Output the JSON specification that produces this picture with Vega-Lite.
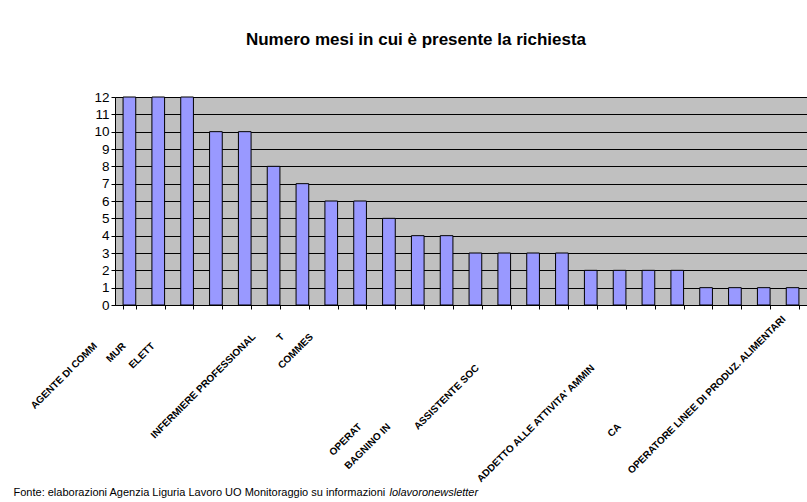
{
  "$schema": "https://vega.github.io/schema/vega-lite/v6.json",
  "width": 692,
  "height": 208,
  "autosize": "none",
  "padding": {"left": 115, "top": 97, "right": 0, "bottom": 197},
  "background": "white",
  "title": {
    "text": "Numero mesi in cui è presente la richiesta",
    "font": "Liberation Sans",
    "fontSize": 17,
    "fontWeight": "bold",
    "color": "black",
    "anchor": "middle",
    "frame": "group",
    "dx": -45,
    "offset": 28,
    "baseline": "alphabetic"
  },
  "data": {
    "values": [
      {"id": 1, "professione": "AGENTE DI COMM", "mesi": 12},
      {"id": 2, "professione": "MUR", "mesi": 12},
      {"id": 3, "professione": "ELETT", "mesi": 12},
      {"id": 4, "professione": "", "mesi": 10},
      {"id": 5, "professione": "INFERMIERE PROFESSIONAL", "mesi": 10},
      {"id": 6, "professione": "T", "mesi": 8},
      {"id": 7, "professione": "COMMES", "mesi": 7},
      {"id": 8, "professione": "", "mesi": 6},
      {"id": 9, "professione": "OPERAT", "mesi": 6},
      {"id": 10, "professione": "BAGNINO IN", "mesi": 5},
      {"id": 11, "professione": "", "mesi": 4},
      {"id": 12, "professione": "", "mesi": 4},
      {"id": 13, "professione": "ASSISTENTE SOC", "mesi": 3},
      {"id": 14, "professione": "", "mesi": 3},
      {"id": 15, "professione": "", "mesi": 3},
      {"id": 16, "professione": "", "mesi": 3},
      {"id": 17, "professione": "ADDETTO ALLE ATTIVITA' AMMIN", "mesi": 2},
      {"id": 18, "professione": "CA", "mesi": 2},
      {"id": 19, "professione": "", "mesi": 2},
      {"id": 20, "professione": "", "mesi": 2},
      {"id": 21, "professione": "", "mesi": 1},
      {"id": 22, "professione": "", "mesi": 1},
      {"id": 23, "professione": "", "mesi": 1},
      {"id": 24, "professione": "OPERATORE LINEE DI PRODUZ. ALIMENTARI", "mesi": 1}
    ]
  },
  "encoding": {
    "x": {
      "field": "id",
      "type": "ordinal",
      "scale": {"type": "band", "paddingInner": 0.56, "paddingOuter": 0.28},
      "axis": {
        "labels": false,
        "grid": false,
        "domainColor": "black",
        "tickColor": "black",
        "tickSize": 4,
        "tickBand": "extent",
        "title": "Fonte: elaborazioni Agenzia Liguria Lavoro UO Monitoraggio su informazioni",
        "titleX": -102,
        "titleY": 190,
        "titleAlign": "left",
        "titleAnchor": "start",
        "titleBaseline": "alphabetic",
        "titleFont": "Liberation Sans",
        "titleFontSize": 11,
        "titleFontWeight": "normal",
        "titleColor": "black"
      }
    }
  },
  "layer": [
    {
      "mark": {"type": "bar", "fill": "#9999FF", "stroke": "black", "strokeWidth": 1},
      "encoding": {
        "y": {
          "field": "mesi",
          "type": "quantitative",
          "scale": {"domain": [0, 12], "nice": false},
          "axis": {"values": [0, 1, 2, 3, 4, 5, 6, 7, 8, 9, 10, 11, 12], "title": "lolavoronewsletter"}
        }
      }
    },
    {
      "transform": [{"filter": "indexof(['AGENTE DI COMM','MUR','ELETT'], datum.professione) >= 0"}],
      "mark": {"type": "text", "angle": -45, "align": "right", "baseline": "middle", "font": "Liberation Sans", "fontSize": 10, "fontWeight": "bold", "fill": "black", "dx": -52, "dy": 4},
      "encoding": {"y": {"datum": 0, "type": "quantitative", "axis": {"values": [0, 1, 2, 3, 4, 5, 6, 7, 8, 9, 10, 11, 12], "title": "lolavoronewsletter"}}, "text": {"field": "professione"}}
    },
    {
      "transform": [{"filter": "indexof(['INFERMIERE PROFESSIONAL','T','COMMES'], datum.professione) >= 0"}],
      "mark": {"type": "text", "angle": -45, "align": "right", "baseline": "middle", "font": "Liberation Sans", "fontSize": 10, "fontWeight": "bold", "fill": "black", "dx": -15, "dy": 28},
      "encoding": {"y": {"datum": 0, "type": "quantitative", "axis": {"values": [0, 1, 2, 3, 4, 5, 6, 7, 8, 9, 10, 11, 12], "title": "lolavoronewsletter"}}, "text": {"field": "professione"}}
    },
    {
      "transform": [{"filter": "indexof(['OPERAT','BAGNINO IN','CA'], datum.professione) >= 0"}],
      "mark": {"type": "text", "angle": -45, "align": "right", "baseline": "middle", "font": "Liberation Sans", "fontSize": 10, "fontWeight": "bold", "fill": "black", "dx": -85, "dy": 85},
      "encoding": {"y": {"datum": 0, "type": "quantitative", "axis": {"values": [0, 1, 2, 3, 4, 5, 6, 7, 8, 9, 10, 11, 12], "title": "lolavoronewsletter"}}, "text": {"field": "professione"}}
    },
    {
      "transform": [{"filter": "indexof(['ASSISTENTE SOC','ADDETTO ALLE ATTIVITA\\' AMMIN'], datum.professione) >= 0"}],
      "mark": {"type": "text", "angle": -45, "align": "right", "baseline": "middle", "font": "Liberation Sans", "fontSize": 10, "fontWeight": "bold", "fill": "black", "dx": -42, "dy": 45},
      "encoding": {"y": {"datum": 0, "type": "quantitative", "axis": {"values": [0, 1, 2, 3, 4, 5, 6, 7, 8, 9, 10, 11, 12], "title": "lolavoronewsletter"}}, "text": {"field": "professione"}}
    },
    {
      "transform": [{"filter": "datum.professione == 'OPERATORE LINEE DI PRODUZ. ALIMENTARI'"}],
      "mark": {"type": "text", "angle": -45, "align": "right", "baseline": "middle", "font": "Liberation Sans", "fontSize": 10, "fontWeight": "bold", "fill": "black", "dx": -15, "dy": 3},
      "encoding": {"y": {"datum": 0, "type": "quantitative", "axis": {"values": [0, 1, 2, 3, 4, 5, 6, 7, 8, 9, 10, 11, 12], "title": "lolavoronewsletter"}}, "text": {"field": "professione"}}
    }
  ],
  "config": {
    "view": {"fill": "#C0C0C0", "stroke": "#808080"},
    "font": "Liberation Sans",
    "axisY": {
      "labelOverlap": false,
      "grid": true,
      "gridColor": "black",
      "gridWidth": 1,
      "domainColor": "black",
      "tickColor": "black",
      "tickSize": 4,
      "labelFont": "Liberation Sans",
      "labelFontSize": 13.5,
      "labelColor": "black",
      "labelPadding": 2,
      "titleAngle": 0,
      "titleX": 274,
      "titleY": 398,
      "titleAlign": "left",
      "titleBaseline": "alphabetic",
      "titleFont": "Liberation Sans",
      "titleFontStyle": "italic",
      "titleFontWeight": "normal",
      "titleFontSize": 11,
      "titleColor": "black"
    }
  }
}
